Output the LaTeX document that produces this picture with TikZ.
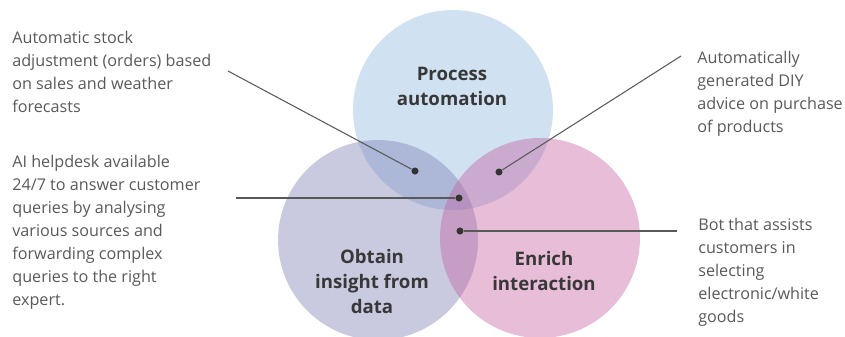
\documentclass[tikz,border=0pt]{standalone}
\usepackage{fontspec}
\setmainfont{Open Sans}
\definecolor{procblue}{RGB}{150,190,225}
\definecolor{insightlilac}{RGB}{120,120,175}
\definecolor{enrichpink}{RGB}{195,90,155}
\begin{document}
\begin{tikzpicture}[x=0.02cm,y=-0.02cm]
\tikzset{note/.style={anchor=base west,align=left,inner sep=0,text=black!65,font=\fontsize{9.2}{13}\selectfont},
  topic/.style={anchor=base,align=center,inner sep=0,text=black!78,font=\fontsize{10.6}{14.2}\selectfont\bfseries},
  area/.style={circle,minimum size=4cm,inner sep=0,fill opacity=0.45},
  leader/.style={draw=black!65,line width=0.6pt},
  dot/.style={circle,fill=black!80,inner sep=0,minimum size=4pt}}
\useasboundingbox (0,0) rectangle (845,336);
% the three circles
\node[area,fill=procblue] (auto) at (453,110) {};
\node[area,fill=insightlilac,fill opacity=0.4] (insight) at (378,240) {};
\node[area,fill=enrichpink,fill opacity=0.4] (enrich) at (540,238) {};
% anchors sit on the last line
\node[topic] (autolbl) at (452,105) {Process\\automation};
\node[topic] (insightlbl) at (372,313) {Obtain\\insight from\\data};
\node[topic] (enrichlbl) at (544,290) {Enrich\\interaction};
% notes
\node[note] (stock) at (12,112) {Automatic stock\\adjustment (orders) based\\on sales and weather\\forecasts};
\node[note] (helpdesk) at (12,305) {AI helpdesk available\\24/7 to answer customer\\queries by analysing\\various sources and\\forwarding complex\\queries to the right\\expert.};
\node[note] (diy) at (697,132) {Automatically\\generated DIY\\advice on purchase\\of products};
\node[note] (bot) at (698,322) {Bot that assists\\customers in\\selecting\\electronic/white\\goods};
% leaders
\node[dot] (d1) at (415,171) {};
\node[dot] (d2) at (499,172) {};
\node[dot] (d3) at (459,198) {};
\node[dot] (d4) at (460,231) {};
\coordinate (e1) at (228,71);
\coordinate (e2) at (681,56);
\coordinate (e3) at (236,198);
\coordinate (e4) at (677,231);
\draw[leader] (e1) -- (d1);
\draw[leader] (e2) -- (d2);
\draw[leader] (e3) -- (d3);
\draw[leader] (e4) -- (d4);
\end{tikzpicture}
\end{document}
